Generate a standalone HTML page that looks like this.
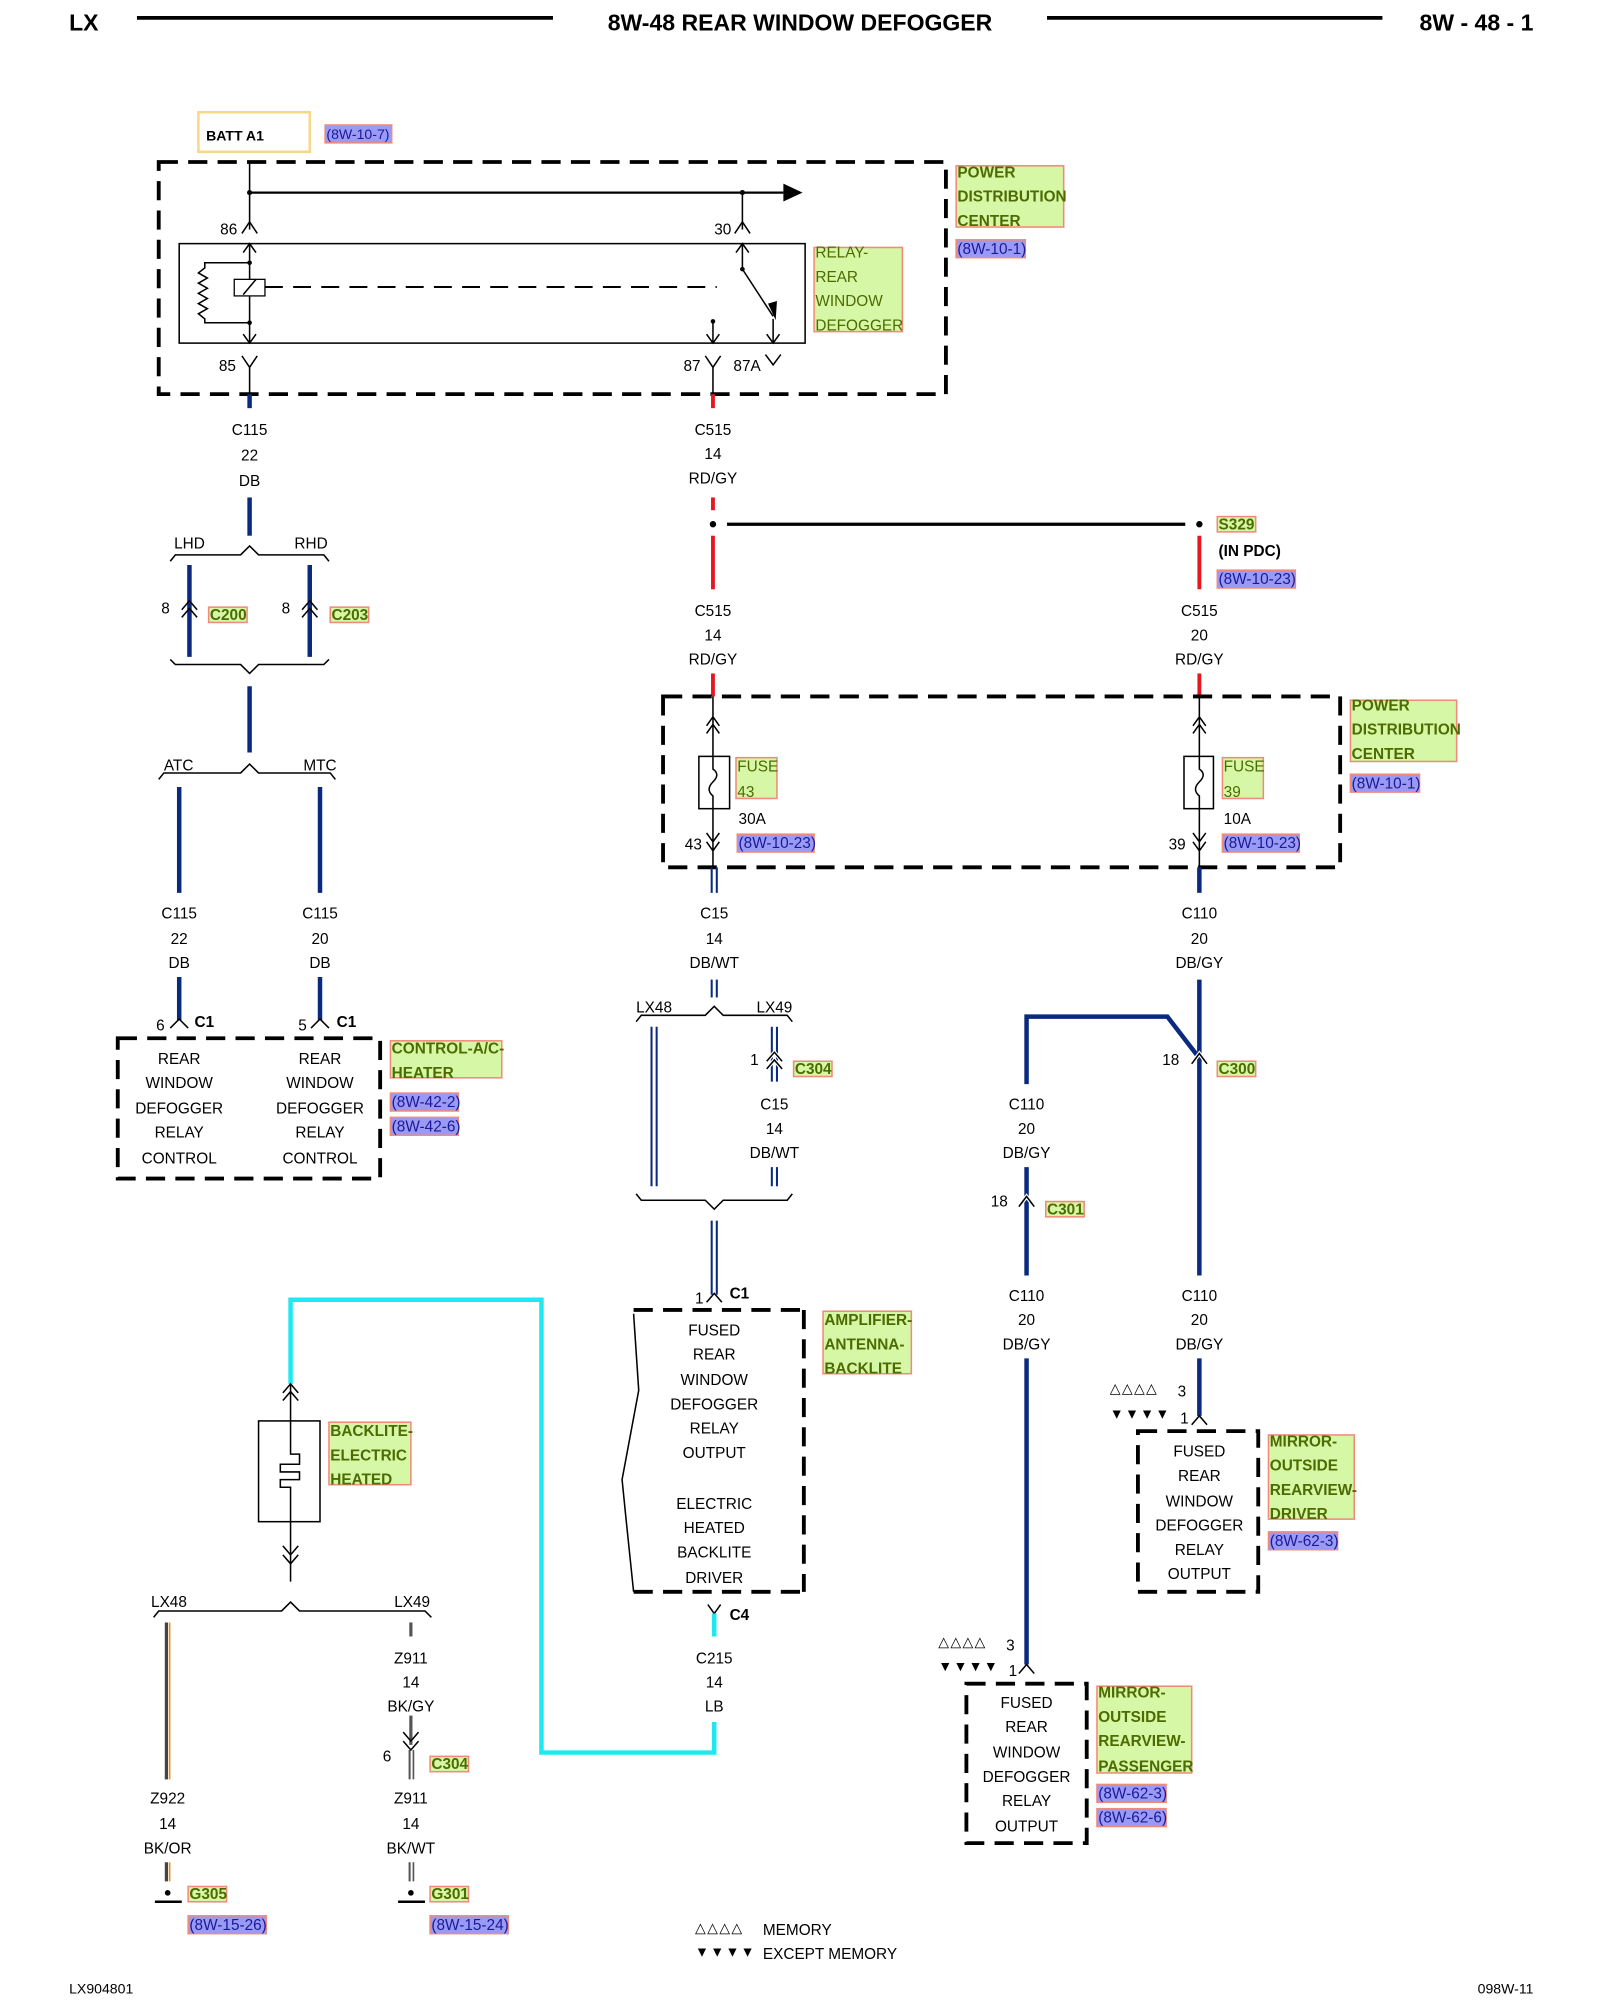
<!DOCTYPE html>
<html><head><meta charset="utf-8"><style>
html,body{margin:0;padding:0;background:#fff;width:1600px;height:2000px;overflow:hidden}
svg{display:block}
text{font-family:"Liberation Sans",sans-serif;font-size:12px;fill:#000}
.c{text-anchor:middle}
.b{font-weight:bold}
.g{fill:#4d6b00;font-weight:bold;font-size:12px}
.r{fill:#1a1a99;font-size:12px}
.gl{fill:#d6f7a6;stroke:#f08a7a;stroke-width:1.2}
.rl{fill:#9a9af5;stroke:#f08a7a;stroke-width:1.2}
.w{stroke:#0a2a80;stroke-width:3.5;fill:none}
.red{stroke:#e8141e;stroke-width:3;fill:none}
.k{stroke:#000;stroke-width:1.2;fill:none}
.d{stroke:#000;stroke-width:3;fill:none;stroke-dasharray:15 8}
.cy{stroke:#1ee8f0;stroke-width:3.5;fill:none}
</style></head><body>
<svg width="1600" height="2000" viewBox="0 0 1250 1568" preserveAspectRatio="none" xmlns="http://www.w3.org/2000/svg">
<!-- header -->
<text x="54" y="24" class="b" style="font-size:18px">LX</text>
<line x1="107" y1="14" x2="432" y2="14" stroke="#000" stroke-width="3"/>
<text x="625" y="24" class="b c" style="font-size:18px">8W-48 REAR WINDOW DEFOGGER</text>
<line x1="818" y1="14" x2="1080" y2="14" stroke="#000" stroke-width="3"/>
<text x="1198" y="24" class="b" text-anchor="end" style="font-size:18px">8W - 48 - 1</text>

<!-- BATT -->
<rect x="155" y="88" width="87" height="31" fill="none" stroke="#f5d98a" stroke-width="2"/>
<text x="161" y="110" class="b" style="font-size:11px">BATT A1</text>
<rect x="254" y="98" width="52" height="14" class="rl"/><text x="255" y="109" class="r" style="font-size:11px">(8W-10-7)</text>

<!-- PDC1 -->
<rect x="124" y="127" width="615" height="182" class="d"/>
<line x1="195" y1="127" x2="195" y2="180" class="k"/>
<line x1="195" y1="151" x2="612" y2="151" stroke="#000" stroke-width="1.8"/>
<polygon points="612,144 627,151 612,158"/>
<circle cx="195" cy="151" r="2"/><circle cx="580" cy="151" r="2"/>
<line x1="580" y1="151" x2="580" y2="180" class="k"/>
<path d="M189,183 L195,174 L201,183 M574,183 L580,174 L586,183" class="k"/>
<text x="172" y="184">86</text><text x="558" y="184">30</text>
<rect x="140" y="191" width="489" height="78" class="k"/>
<line x1="195" y1="191" x2="195" y2="269" class="k"/>
<path d="M190,198 L195,191 L200,198 M190,262 L195,269 L200,262" class="k"/>
<path d="M195,206 L160,206 L160,210 L155,214 L162,218 L155,222 L162,226 L155,230 L162,234 L155,238 L162,242 L155,246 L160,250 L160,253 L195,253" class="k"/>
<circle cx="195" cy="206" r="1.8"/><circle cx="195" cy="253" r="1.8"/>
<rect x="183" y="219" width="24" height="13" fill="#fff" stroke="#000"/>
<line x1="190" y1="231" x2="200" y2="219" class="k"/>
<line x1="207" y1="225" x2="560" y2="225" stroke="#000" stroke-width="1.5" stroke-dasharray="14 8"/>
<line x1="580" y1="191" x2="580" y2="211" class="k"/><path d="M575,198 L580,191 L585,198" class="k"/>
<circle cx="580" cy="211" r="1.8"/>
<line x1="580" y1="211" x2="604" y2="248" class="k"/><polygon points="600,238 606,251 607,236"/>
<circle cx="557" cy="252" r="1.8"/><line x1="557" y1="252" x2="557" y2="269" class="k"/>
<line x1="604" y1="250" x2="604" y2="269" class="k"/>
<path d="M552,262 L557,269 L562,262 M599,262 L604,269 L609,262" class="k"/>
<path d="M189,279 L195,288 L201,279 M195,288 L195,309 M551,279 L557,288 L563,279 M557,288 L557,309 M598,278 L604,286 L610,278" class="k"/>
<text x="171" y="291">85</text><text x="534" y="291">87</text><text x="573" y="291">87A</text>
<rect x="747" y="130" width="84" height="48" class="gl"/>
<text x="748" y="139" class="g">POWER</text><text x="748" y="158" class="g">DISTRIBUTION</text><text x="748" y="177" class="g">CENTER</text>
<rect x="747" y="188" width="54" height="14" class="rl"/><text x="748" y="199" class="r">(8W-10-1)</text>
<rect x="636" y="194" width="69" height="66" class="gl"/>
<text x="637" y="202" class="g" style="font-weight:normal">RELAY-</text><text x="637" y="221" class="g" style="font-weight:normal">REAR</text><text x="637" y="240" class="g" style="font-weight:normal">WINDOW</text><text x="637" y="259" class="g" style="font-weight:normal">DEFOGGER</text>

<!-- left column -->
<line x1="195" y1="309" x2="195" y2="320" class="w"/>
<text x="195" y="341" class="c">C115</text><text x="195" y="361" class="c">22</text><text x="195" y="381" class="c">DB</text>
<line x1="195" y1="390" x2="195" y2="420" class="w"/>
<path d="M133,440 L137,435 L188,435 L195,428 L202,435 L253,435 L257,440" class="k"/>
<text x="136" y="430">LHD</text><text x="230" y="430">RHD</text>
<line x1="148" y1="443" x2="148" y2="515" class="w"/><line x1="242" y1="443" x2="242" y2="515" class="w"/>
<path d="M142,478 L148,471 L154,478 M142,484 L148,477 L154,484 M236,478 L242,471 L248,478 M236,484 L242,477 L248,484" class="k"/>
<text x="126" y="481">8</text><text x="220" y="481">8</text>
<rect x="163" y="476" width="30" height="12" class="gl"/><text x="164" y="486" class="g">C200</text>
<rect x="258" y="476" width="30" height="12" class="gl"/><text x="259" y="486" class="g">C203</text>
<path d="M133,517 L137,521 L188,521 L195,528 L202,521 L253,521 L257,517" class="k"/>
<line x1="195" y1="538" x2="195" y2="590" class="w"/>
<path d="M124,611 L128,606 L188,606 L195,599 L202,606 L258,606 L262,611" class="k"/>
<text x="128" y="604">ATC</text><text x="237" y="604">MTC</text>
<line x1="140" y1="617" x2="140" y2="700" class="w"/><line x1="250" y1="617" x2="250" y2="700" class="w"/>
<text x="140" y="720" class="c">C115</text><text x="140" y="740" class="c">22</text><text x="140" y="759" class="c">DB</text>
<text x="250" y="720" class="c">C115</text><text x="250" y="740" class="c">20</text><text x="250" y="759" class="c">DB</text>
<line x1="140" y1="766" x2="140" y2="800" class="w"/><line x1="250" y1="766" x2="250" y2="800" class="w"/>
<path d="M133,806 L140,799 L147,806 M243,806 L250,799 L257,806" class="k"/>
<text x="122" y="808">6</text><text x="152" y="805" class="b">C1</text>
<text x="233" y="808">5</text><text x="263" y="805" class="b">C1</text>
<rect x="92" y="814" width="205" height="110" class="d"/>
<g class="c">
<text x="140" y="834" class="c">REAR</text><text x="140" y="853" class="c">WINDOW</text><text x="140" y="873" class="c">DEFOGGER</text><text x="140" y="892" class="c">RELAY</text><text x="140" y="912" class="c">CONTROL</text>
<text x="250" y="834" class="c">REAR</text><text x="250" y="853" class="c">WINDOW</text><text x="250" y="873" class="c">DEFOGGER</text><text x="250" y="892" class="c">RELAY</text><text x="250" y="912" class="c">CONTROL</text>
</g>
<rect x="305" y="816" width="87" height="29" class="gl"/>
<text x="306" y="826" class="g">CONTROL-A/C-</text><text x="306" y="845" class="g">HEATER</text>
<rect x="305" y="857" width="53" height="14" class="rl"/><text x="306" y="868" class="r">(8W-42-2)</text>
<rect x="305" y="876" width="53" height="14" class="rl"/><text x="306" y="887" class="r">(8W-42-6)</text>

<!-- middle red -->
<line x1="557" y1="309" x2="557" y2="320" class="red"/>
<text x="557" y="341" class="c">C515</text><text x="557" y="360" class="c">14</text><text x="557" y="379" class="c">RD/GY</text>
<line x1="557" y1="390" x2="557" y2="400" class="red"/>
<circle cx="557" cy="411" r="2.5"/><circle cx="937" cy="411" r="2.5"/>
<line x1="568" y1="411" x2="926" y2="411" stroke="#000" stroke-width="2.5"/>
<rect x="951" y="405" width="30" height="12" class="gl"/><text x="952" y="415" class="g">S329</text>
<text x="952" y="436" class="b">(IN PDC)</text>
<rect x="951" y="447" width="61" height="14" class="rl"/><text x="952" y="458" class="r">(8W-10-23)</text>
<line x1="557" y1="420" x2="557" y2="462" class="red"/><line x1="937" y1="420" x2="937" y2="462" class="red"/>
<text x="557" y="483" class="c">C515</text><text x="557" y="502" class="c">14</text><text x="557" y="521" class="c">RD/GY</text>
<text x="937" y="483" class="c">C515</text><text x="937" y="502" class="c">20</text><text x="937" y="521" class="c">RD/GY</text>
<line x1="557" y1="528" x2="557" y2="546" class="red"/><line x1="937" y1="528" x2="937" y2="546" class="red"/>

<!-- PDC2 -->
<rect x="518" y="546" width="529" height="134" class="d"/>
<g class="k">
<path d="M557,546 L557,593 M552,569 L557,562 L562,569 M552,575 L557,568 L562,575 M557,634 L557,680 M552,653 L557,660 L562,653 M552,660 L557,667 L562,660"/>
<path d="M937,546 L937,593 M932,569 L937,562 L942,569 M932,575 L937,568 L942,575 M937,634 L937,680 M932,653 L937,660 L942,653 M932,660 L937,667 L942,660"/>
<rect x="546" y="593" width="24" height="41"/><path d="M557,593 L557,603 Q563,607 557,613 Q551,619 557,624 L557,634"/>
<rect x="925" y="593" width="23" height="41"/><path d="M937,593 L937,603 Q943,607 937,613 Q931,619 937,624 L937,634"/>
</g>
<rect x="575" y="594" width="32" height="32" class="gl"/><text x="576" y="605" class="g" style="font-weight:normal">FUSE</text><text x="576" y="625" class="g" style="font-weight:normal">43</text>
<rect x="955" y="594" width="32" height="32" class="gl"/><text x="956" y="605" class="g" style="font-weight:normal">FUSE</text><text x="956" y="625" class="g" style="font-weight:normal">39</text>
<text x="577" y="646">30A</text><text x="956" y="646">10A</text>
<text x="535" y="666">43</text><text x="913" y="666">39</text>
<rect x="576" y="654" width="60" height="14" class="rl"/><text x="577" y="665" class="r">(8W-10-23)</text>
<rect x="955" y="654" width="60" height="14" class="rl"/><text x="956" y="665" class="r">(8W-10-23)</text>
<rect x="1055" y="549" width="83" height="48" class="gl"/>
<text x="1056" y="557" class="g">POWER</text><text x="1056" y="576" class="g">DISTRIBUTION</text><text x="1056" y="595" class="g">CENTER</text>
<rect x="1055" y="607" width="54" height="14" class="rl"/><text x="1056" y="618" class="r">(8W-10-1)</text>

<!-- C15 -->
<g stroke="#0a2a80" stroke-width="1.6">
<line x1="556" y1="680" x2="556" y2="700"/><line x1="560" y1="680" x2="560" y2="700"/>
<line x1="556" y1="768" x2="556" y2="782"/><line x1="560" y1="768" x2="560" y2="782"/>
<line x1="509" y1="805" x2="509" y2="930"/><line x1="513" y1="805" x2="513" y2="930"/>
<line x1="603" y1="805" x2="603" y2="848"/><line x1="607" y1="805" x2="607" y2="848"/>
<line x1="603" y1="915" x2="603" y2="930"/><line x1="607" y1="915" x2="607" y2="930"/>
<line x1="556" y1="957" x2="556" y2="1015"/><line x1="560" y1="957" x2="560" y2="1015"/>
</g>
<text x="558" y="720" class="c">C15</text><text x="558" y="740" class="c">14</text><text x="558" y="759" class="c">DB/WT</text>
<path d="M497,801 L501,796 L551,796 L558,789 L565,796 L615,796 L619,801" class="k"/>
<text x="497" y="794">LX48</text><text x="591" y="794">LX49</text>
<path d="M599,832 L605,825 L611,832 M599,838 L605,831 L611,838" class="k" style="stroke:#fff;stroke-width:3"/>
<path d="M599,832 L605,825 L611,832 M599,838 L605,831 L611,838" class="k"/>
<text x="586" y="835">1</text>
<rect x="620" y="832" width="30" height="12" class="gl"/><text x="621" y="842" class="g">C304</text>
<text x="605" y="870" class="c">C15</text><text x="605" y="889" class="c">14</text><text x="605" y="908" class="c">DB/WT</text>
<path d="M497,936 L501,941 L551,941 L558,948 L565,941 L615,941 L619,936" class="k"/>
<path d="M552,1021 L558,1014 L564,1021" class="k"/>
<text x="543" y="1022">1</text><text x="570" y="1018" class="b">C1</text>
<path d="M628,1027 L628,1248 M495,1248 L628,1248 M495,1027 L628,1027" class="d"/>
<path d="M495,1030 L499,1090 L486,1160 L489,1190 L495,1248" class="k"/>
<g>
<text x="558" y="1047" class="c">FUSED</text><text x="558" y="1066" class="c">REAR</text><text x="558" y="1086" class="c">WINDOW</text><text x="558" y="1105" class="c">DEFOGGER</text><text x="558" y="1124" class="c">RELAY</text><text x="558" y="1143" class="c">OUTPUT</text>
<text x="558" y="1183" class="c">ELECTRIC</text><text x="558" y="1202" class="c">HEATED</text><text x="558" y="1221" class="c">BACKLITE</text><text x="558" y="1241" class="c">DRIVER</text>
</g>
<rect x="643" y="1028" width="69" height="49" class="gl"/>
<text x="644" y="1039" class="g">AMPLIFIER-</text><text x="644" y="1058" class="g">ANTENNA-</text><text x="644" y="1077" class="g">BACKLITE</text>
<path d="M553,1258 L558,1265 L563,1258" class="k"/>
<line x1="558" y1="1265" x2="558" y2="1283" class="cy"/>
<text x="570" y="1270" class="b">C4</text>
<text x="558" y="1304" class="c">C215</text><text x="558" y="1323" class="c">14</text><text x="558" y="1342" class="c">LB</text>
<path d="M558,1350 L558,1374 L423,1374 L423,1019 L227,1019 L227,1085" class="cy"/>

<!-- backlite -->
<rect x="202" y="1114" width="48" height="79" class="k"/>
<path d="M227,1085 L227,1140 L234,1140 L234,1148 L219,1148 L219,1154 L234,1154 L234,1160 L219,1160 L219,1166 L227,1166 L227,1240" class="k"/>
<path d="M221,1092 L227,1085 L233,1092 M221,1098 L227,1091 L233,1098 M221,1212 L227,1219 L233,1212 M221,1219 L227,1226 L233,1219" class="k"/>
<rect x="257" y="1115" width="64" height="49" class="gl"/>
<text x="258" y="1126" class="g">BACKLITE-</text><text x="258" y="1145" class="g">ELECTRIC</text><text x="258" y="1164" class="g">HEATED</text>
<path d="M120,1268 L124,1263 L220,1263 L227,1256 L234,1263 L332,1263 L337,1268" class="k"/>
<text x="118" y="1260">LX48</text><text x="308" y="1260">LX49</text>
<line x1="130" y1="1272" x2="130" y2="1395" stroke="#444" stroke-width="2.5"/><line x1="132.5" y1="1272" x2="132.5" y2="1395" stroke="#e89020" stroke-width="1.3"/>
<line x1="130" y1="1460" x2="130" y2="1475" stroke="#444" stroke-width="2.5"/><line x1="132.5" y1="1460" x2="132.5" y2="1475" stroke="#e89020" stroke-width="1.3"/>
<line x1="321" y1="1272" x2="321" y2="1283" stroke="#555" stroke-width="2.5"/>
<line x1="321" y1="1345" x2="321" y2="1368" stroke="#555" stroke-width="2.5"/>
<path d="M315,1358 L321,1365 L327,1358 M315,1365 L321,1372 L327,1365" class="k"/>
<line x1="320" y1="1372" x2="320" y2="1395" stroke="#555" stroke-width="1.6"/><line x1="323" y1="1372" x2="323" y2="1395" stroke="#555" stroke-width="1.3"/>
<line x1="320" y1="1460" x2="320" y2="1475" stroke="#555" stroke-width="1.6"/><line x1="323" y1="1460" x2="323" y2="1475" stroke="#555" stroke-width="1.3"/>
<text x="131" y="1414" class="c">Z922</text><text x="131" y="1434" class="c">14</text><text x="131" y="1453" class="c">BK/OR</text>
<text x="321" y="1304" class="c">Z911</text><text x="321" y="1323" class="c">14</text><text x="321" y="1342" class="c">BK/GY</text>
<text x="299" y="1381">6</text>
<rect x="336" y="1377" width="30" height="12" class="gl"/><text x="337" y="1387" class="g">C304</text>
<text x="321" y="1414" class="c">Z911</text><text x="321" y="1434" class="c">14</text><text x="321" y="1453" class="c">BK/WT</text>
<circle cx="131" cy="1484" r="2.2"/><line x1="121" y1="1491" x2="142" y2="1491" stroke="#000" stroke-width="2"/>
<circle cx="321" cy="1484" r="2.2"/><line x1="311" y1="1491" x2="332" y2="1491" stroke="#000" stroke-width="2"/>
<rect x="147" y="1479" width="30" height="12" class="gl"/><text x="148" y="1489" class="g">G305</text>
<rect x="336" y="1479" width="30" height="12" class="gl"/><text x="337" y="1489" class="g">G301</text>
<rect x="147" y="1502" width="61" height="14" class="rl"/><text x="148" y="1513" class="r">(8W-15-26)</text>
<rect x="336" y="1502" width="61" height="14" class="rl"/><text x="337" y="1513" class="r">(8W-15-24)</text>

<!-- right -->
<line x1="937" y1="680" x2="937" y2="700" class="w"/>
<text x="937" y="720" class="c">C110</text><text x="937" y="740" class="c">20</text><text x="937" y="759" class="c">DB/GY</text>
<line x1="937" y1="768" x2="937" y2="1000" class="w"/>
<path d="M802,850 L802,797 L912,797 L935,827" class="w"/>
<path d="M931,834 L937,826 L943,834" class="k" style="stroke:#fff;stroke-width:3"/>
<path d="M931,834 L937,826 L943,834" class="k"/>
<text x="908" y="835">18</text>
<rect x="951" y="832" width="30" height="12" class="gl"/><text x="952" y="842" class="g">C300</text>
<text x="802" y="870" class="c">C110</text><text x="802" y="889" class="c">20</text><text x="802" y="908" class="c">DB/GY</text>
<line x1="802" y1="915" x2="802" y2="1000" class="w"/>
<path d="M796,946 L802,938 L808,946" class="k" style="stroke:#fff;stroke-width:3"/>
<path d="M796,946 L802,938 L808,946" class="k"/>
<text x="774" y="946">18</text>
<rect x="817" y="942" width="30" height="12" class="gl"/><text x="818" y="952" class="g">C301</text>
<text x="802" y="1020" class="c">C110</text><text x="802" y="1039" class="c">20</text><text x="802" y="1058" class="c">DB/GY</text>
<text x="937" y="1020" class="c">C110</text><text x="937" y="1039" class="c">20</text><text x="937" y="1058" class="c">DB/GY</text>
<line x1="937" y1="1065" x2="937" y2="1110" class="w"/>
<path d="M931,1117 L937,1110 L943,1117" class="k"/>
<text x="867" y="1092" style="font-size:11px;letter-spacing:1px">△△△△</text><text x="920" y="1095">3</text>
<text x="867" y="1112" style="font-size:11px;letter-spacing:1px">▼▼▼▼</text><text x="922" y="1116">1</text>
<rect x="889" y="1122" width="94" height="126" class="d"/>
<text x="937" y="1142" class="c">FUSED</text><text x="937" y="1161" class="c">REAR</text><text x="937" y="1181" class="c">WINDOW</text><text x="937" y="1200" class="c">DEFOGGER</text><text x="937" y="1219" class="c">RELAY</text><text x="937" y="1238" class="c">OUTPUT</text>
<rect x="991" y="1125" width="67" height="66" class="gl"/>
<text x="992" y="1134" class="g">MIRROR-</text><text x="992" y="1153" class="g">OUTSIDE</text><text x="992" y="1172" class="g">REARVIEW-</text><text x="992" y="1191" class="g">DRIVER</text>
<rect x="991" y="1201" width="54" height="14" class="rl"/><text x="992" y="1212" class="r">(8W-62-3)</text>
<line x1="802" y1="1065" x2="802" y2="1305" class="w"/>
<path d="M796,1312 L802,1305 L808,1312" class="k"/>
<text x="733" y="1291" style="font-size:11px;letter-spacing:1px">△△△△</text><text x="786" y="1294">3</text>
<text x="733" y="1310" style="font-size:11px;letter-spacing:1px">▼▼▼▼</text><text x="788" y="1314">1</text>
<rect x="755" y="1320" width="94" height="125" class="d"/>
<text x="802" y="1339" class="c">FUSED</text><text x="802" y="1358" class="c">REAR</text><text x="802" y="1378" class="c">WINDOW</text><text x="802" y="1397" class="c">DEFOGGER</text><text x="802" y="1416" class="c">RELAY</text><text x="802" y="1436" class="c">OUTPUT</text>
<rect x="857" y="1322" width="74" height="68" class="gl"/>
<text x="858" y="1331" class="g">MIRROR-</text><text x="858" y="1350" class="g">OUTSIDE</text><text x="858" y="1369" class="g">REARVIEW-</text><text x="858" y="1389" class="g">PASSENGER</text>
<rect x="857" y="1399" width="54" height="14" class="rl"/><text x="858" y="1410" class="r">(8W-62-3)</text>
<rect x="857" y="1418" width="54" height="14" class="rl"/><text x="858" y="1429" class="r">(8W-62-6)</text>

<!-- legend / footer -->
<text x="543" y="1515" style="font-size:11px;letter-spacing:1px">△△△△</text><text x="596" y="1517">MEMORY</text>
<text x="543" y="1534" style="font-size:11px;letter-spacing:1px">▼▼▼▼</text><text x="596" y="1536">EXCEPT MEMORY</text>
<text x="54" y="1563" style="font-size:11px">LX904801</text>
<text x="1198" y="1563" text-anchor="end" style="font-size:11px">098W-11</text>
</svg>
</body></html>
